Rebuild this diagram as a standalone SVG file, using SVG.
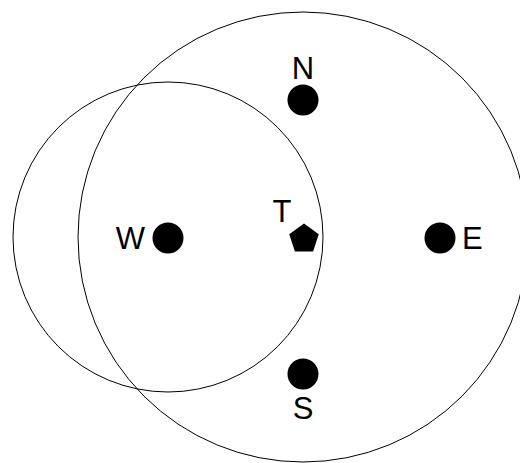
<svg xmlns="http://www.w3.org/2000/svg" width="520" height="463" viewBox="0 0 520 463">
<style>
.ring{fill:none;stroke:#000;stroke-width:1}
.dot{fill:#000}
.lbl{font-family:"Liberation Sans",Arial,sans-serif;font-size:31px;fill:#000}
</style>
<rect width="520" height="463" fill="#fff"/>
<g id="connectors">
<circle class="ring" cx="303" cy="237" r="225"/>
<circle class="ring" cx="168" cy="237" r="155"/>
</g>
<g id="N"><circle class="dot" cx="303" cy="100" r="15.5"/><text class="lbl" x="303" y="79" text-anchor="middle">N</text></g>
<g id="S"><circle class="dot" cx="303" cy="374" r="15.5"/><text class="lbl" x="303" y="419" text-anchor="middle">S</text></g>
<g id="W"><circle class="dot" cx="168" cy="238" r="15.5"/><text class="lbl" x="145" y="249" text-anchor="end">W</text></g>
<g id="E"><circle class="dot" cx="440" cy="238" r="15.5"/><text class="lbl" x="462" y="249">E</text></g>
<g id="T"><polygon class="dot" points="304,223.5 318.74,234.21 313.11,251.54 294.89,251.54 289.26,234.21"/><text class="lbl" x="282" y="222" text-anchor="middle">T</text></g>
</svg>
